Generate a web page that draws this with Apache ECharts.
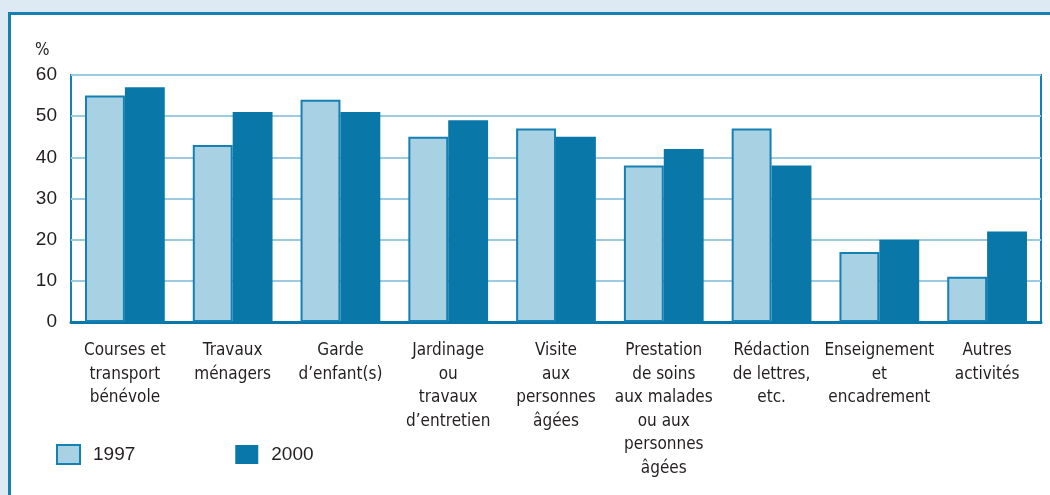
<!DOCTYPE html>
<html>
<head>
<meta charset="utf-8">
<script src="https://cdn.jsdelivr.net/npm/echarts@6/dist/echarts.min.js"></script>
<style>
  html, body { margin: 0; padding: 0; background: #dde9f3; }
  #panel {
    position: absolute; left: 8px; top: 12px; width: 1100px; height: 600px;
    background: #fff; border-left: 3px solid #1580b3; border-top: 3px solid #1580b3;
  }
  #canvas { position: absolute; left: 0; top: 0; width: 1050px; height: 495px; }
</style>
</head>
<body>
<div id="panel"></div>
<div id="canvas"></div>
<script>
const categories = [
  'Courses et\ntransport\nbénévole',
  'Travaux\nménagers',
  'Garde\nd’enfant(s)',
  'Jardinage\nou\ntravaux\nd’entretien',
  'Visite\naux\npersonnes\nâgées',
  'Prestation\nde soins\naux malades\nou aux\npersonnes\nâgées',
  'Rédaction\nde lettres,\netc.',
  'Enseignement\net\nencadrement',
  'Autres\nactivités',
];
const values1997 = [55, 43, 54, 45, 47, 38, 47, 17, 11];
const values2000 = [57, 51, 51, 49, 45, 42, 38, 20, 22];
const yTicks = [0, 60, 10]; // min, max, interval

const textColor = '#231f20';
const blue = '#0a77a9';
const narrow = "'DejaVu Sans Condensed', 'Liberation Sans Narrow', 'Liberation Sans', sans-serif";
const chart = echarts.init(document.getElementById('canvas'));

const option = {
  backgroundColor: 'transparent',
  animation: false,
  grid: {
    left: 71,
    right: 9,
    top: 75,
    bottom: 173,
    show: true,
    backgroundColor: '#fff',
    borderColor: '#1580b3',
    borderWidth: 2,
  },
  legend: {
    left: 56,
    top: 444,
    padding: 0,
    icon: 'rect',
    itemWidth: 23,
    itemHeight: 19,
    itemGap: 100,
    textStyle: { fontFamily: 'Liberation Sans', fontSize: 19, color: textColor, padding: [4, 0, 0, 8] },
    data: ['1997', '2000'],
  },
  graphic: [
    {
      type: 'text',
      left: 35,
      top: 42,
      style: { text: '%', fontFamily: narrow, fontSize: 17, fill: textColor },
    },
  ],
  xAxis: {
    type: 'category',
    data: categories,
    axisLine: { lineStyle: { color: blue, width: 3 } },
    axisTick: { show: false },
    axisLabel: {
      interval: 0,
      margin: 17,
      fontFamily: narrow,
      fontSize: 17,
      lineHeight: 23.5,
      color: textColor,
    },
  },
  yAxis: {
    type: 'value',
    min: yTicks[0],
    max: yTicks[1],
    interval: yTicks[2],
    axisLine: { show: false },
    axisTick: { show: false },
    splitLine: { lineStyle: { color: '#9ccae0', width: 2 } },
    axisLabel: {
      margin: 14,
      fontFamily: 'Liberation Sans',
      fontSize: 19,
      color: textColor,
    },
  },
  series: [
    {
      name: '1997',
      type: 'bar',
      data: values1997,
      barGap: '0%',
      barCategoryGap: '26%',
      itemStyle: { color: '#a9d1e4', borderColor: '#1580b3', borderWidth: 2 },
    },
    {
      name: '2000',
      type: 'bar',
      data: values2000,
      barGap: '0%',
      barCategoryGap: '26%',
      itemStyle: { color: blue },
    },
  ],
};

chart.setOption(option);

window.onresize = chart.resize;
</script>
</body>
</html>
